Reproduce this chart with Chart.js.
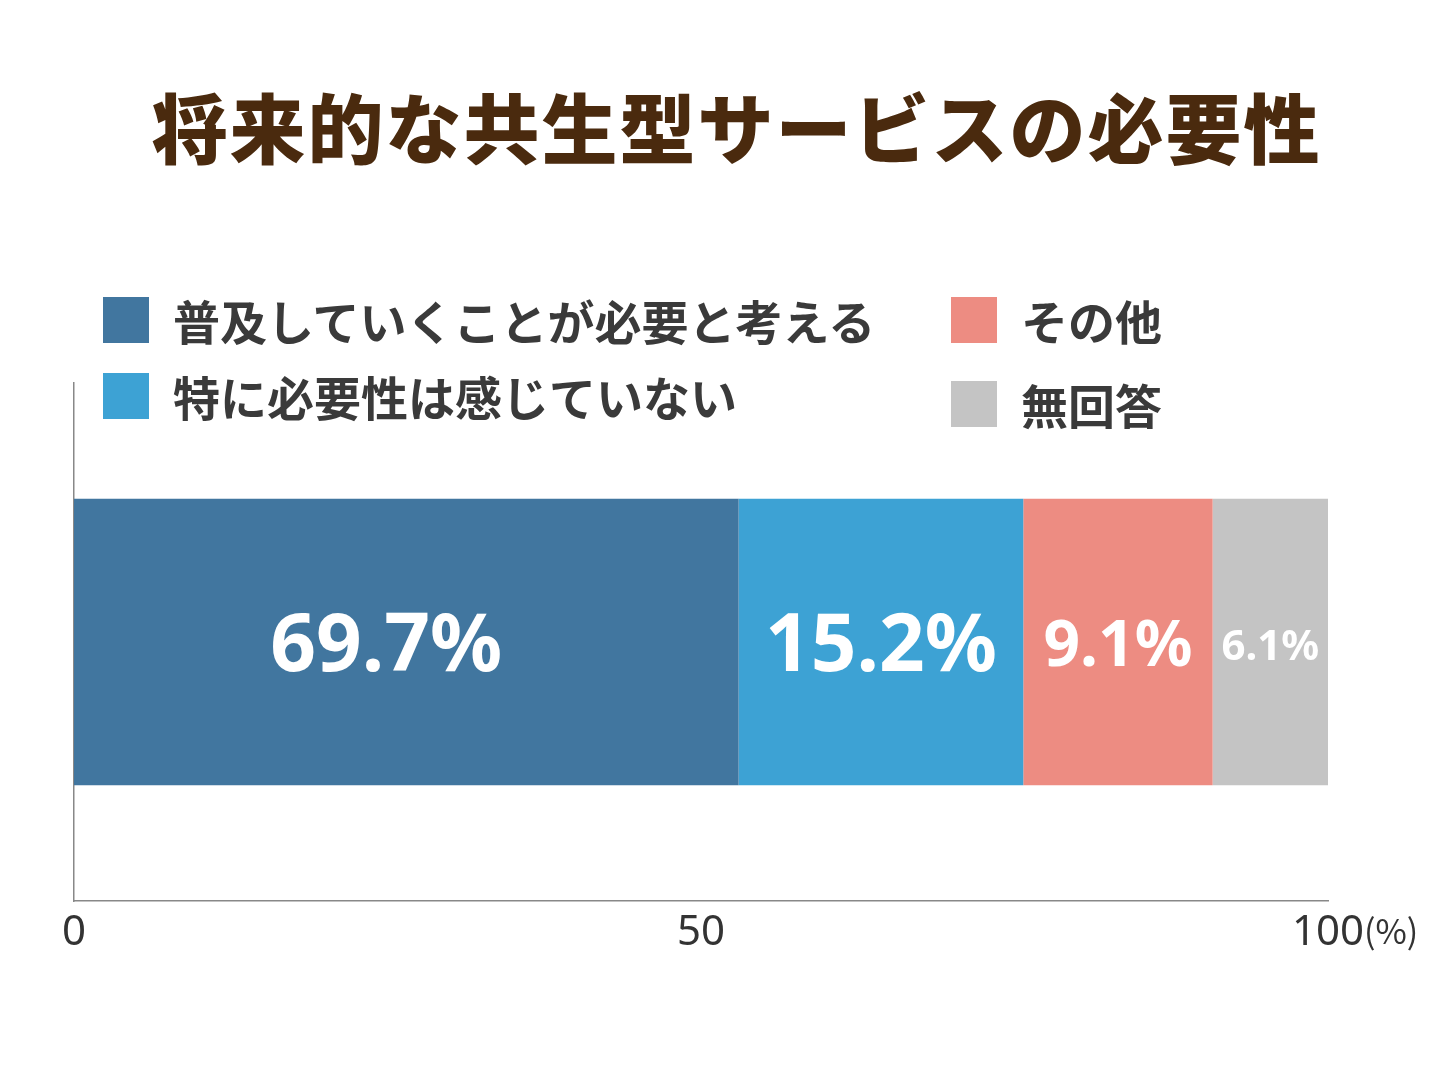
<!DOCTYPE html>
<html><head><meta charset="utf-8">
<script src="https://cdn.jsdelivr.net/npm/chart.js@4/dist/chart.umd.min.js"></script>
<style>
body{margin:0;background:#fff;width:1453px;height:1090px;overflow:hidden;position:relative;font-family:"Noto Sans CJK JP","Noto Sans",sans-serif}
#title{position:absolute;left:0;width:1453px;top:70px;text-align:center;font-size:76px;font-weight:900;color:#4a2a0e;letter-spacing:2px;padding-left:10px}
.lg{position:absolute;font-size:47px;font-weight:700;color:#3a3a3a;line-height:46px;white-space:nowrap}
.lg i{display:inline-block;width:46px;height:46px;vertical-align:top;margin-right:24px}
#wrap{position:absolute;left:0;top:0;width:1453px;height:1090px}
</style></head><body>
<div id="wrap"><canvas id="c"></canvas></div>
<div id="title">将来的な共生型サービスの必要性</div>
<div class="lg" style="left:103px;top:297px"><i style="background:#41769f"></i>普及していくことが必要と考える</div>
<div class="lg" style="left:103px;top:373px"><i style="background:#3da2d4"></i>特に必要性は感じていない</div>
<div class="lg" style="left:951px;top:297px"><i style="background:#ed8c82"></i>その他</div>
<div class="lg" style="left:951px;top:381px"><i style="background:#c4c4c4"></i>無回答</div>
<script>
const categories=["将来的な共生型サービスの必要性"];
const seriesNames=["普及していくことが必要と考える","特に必要性は感じていない","その他","無回答"];
const drawnValues=[53.0,22.7,15.1,9.2];
const valueLabels=["69.7%","15.2%","9.1%","6.1%"];
const colors=["#41769f","#3da2d4","#ed8c82","#c4c4c4"];
const labelSizes=[80,80,64,42];
const tickValues=[0,50,100];
const tickLabels=["0","50","100"];

const overlay={id:'ov',afterDatasetsDraw(ch){
  const ctx=ch.ctx;
  ch.data.datasets.forEach((ds,i)=>{
    const el=ch.getDatasetMeta(i).data[0];
    let cx=(el.x+el.base)/2; if(i===0) cx-=20;
    ctx.save();ctx.fillStyle='#fff';ctx.textAlign='center';ctx.textBaseline='middle';
    ctx.font='bold '+labelSizes[i]+'px "Noto Sans","Noto Sans CJK JP",sans-serif';
    ctx.fillText(valueLabels[i],cx,el.y+6);ctx.restore();
  });
  const xs=ch.scales.x;
  ctx.save();ctx.fillStyle='#333';ctx.textBaseline='middle';
  ctx.font='42px "Noto Sans","Noto Sans CJK JP",sans-serif';
  tickValues.forEach((v,k)=>{
    const px=xs.getPixelForValue(v);
    ctx.textAlign='center';
    ctx.fillText(tickLabels[k],px,933);
  });
  const px=xs.getPixelForValue(100)+ctx.measureText('100').width/2;
  ctx.font='34px "Noto Sans CJK JP",sans-serif';ctx.textAlign='left';
  ctx.fillText('(%)',px,931);
  ctx.restore();
}};

new Chart(document.getElementById('c'),{
  type:'bar',
  data:{labels:categories,datasets:seriesNames.map((n,i)=>({label:n,data:[drawnValues[i]],backgroundColor:colors[i],borderWidth:0,categoryPercentage:1,barPercentage:0.553}))},
  options:{indexAxis:'y',responsive:true,maintainAspectRatio:false,animation:false,
    layout:{padding:{left:66,right:125,top:383,bottom:181}},
    plugins:{legend:{display:false},tooltip:{enabled:false}},
    scales:{
      x:{stacked:true,min:0,max:100,ticks:{display:false},grid:{display:false},border:{display:true,color:'#888',width:1.5}},
      y:{stacked:true,ticks:{display:false},grid:{display:false},border:{display:true,color:'#888',width:1.5}}
    }},
  plugins:[overlay]
});
</script></body></html>
